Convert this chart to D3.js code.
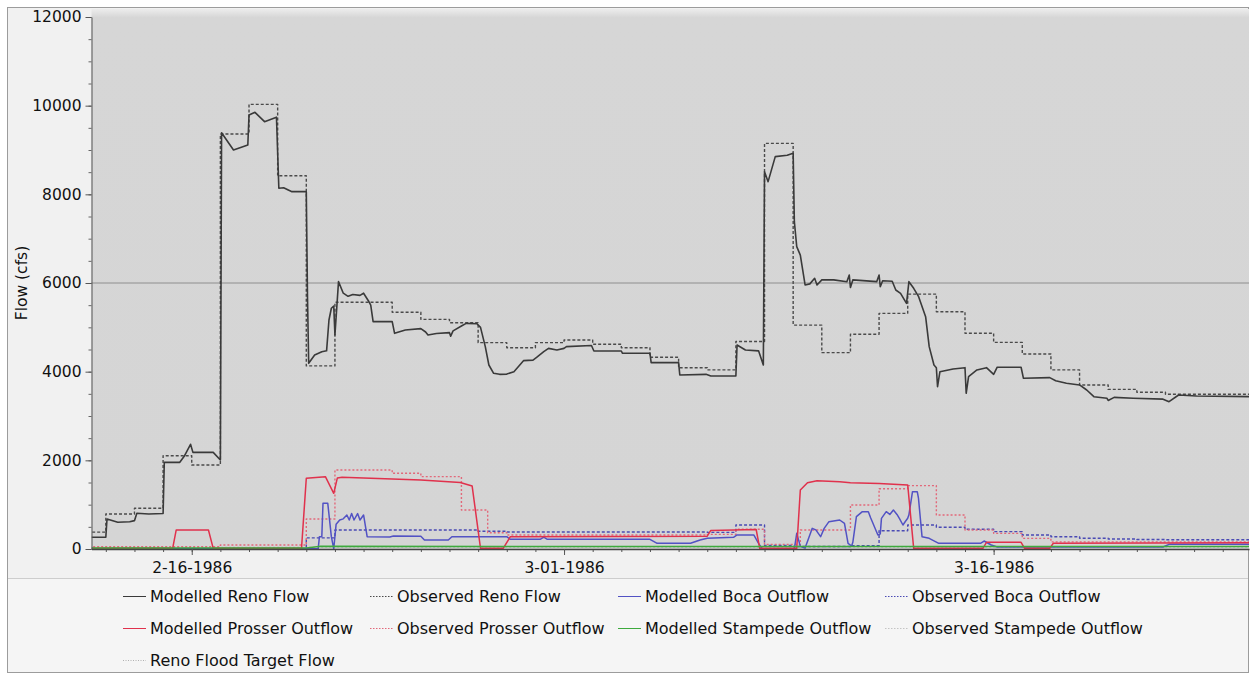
<!DOCTYPE html>
<html>
<head>
<meta charset="utf-8">
<script src="https://cdn.jsdelivr.net/npm/d3@7"></script>
<style>
  html, body { margin: 0; padding: 0; background: #ffffff; }
  svg { display: block; font-family: "DejaVu Sans", Verdana, sans-serif; }
  .tick text { fill: #111; }
</style>
</head>
<body>
<svg id="chart" width="1251" height="675"></svg>
<script>
// ---- Flows at Reno and reservoir outflows, Feb–Mar 1986 (cfs) ----
// Each series is a list of [month-day hour, flow] pairs.

const modelledReno = [
  ["02-12 12", 264], ["02-13 00", 264], ["02-13 01", 677], ["02-13 10", 602], ["02-13 20", 615],
  ["02-14 00", 640], ["02-14 02", 805], ["02-14 12", 790], ["02-15 00", 800], ["02-15 01", 1955],
  ["02-15 14", 1955], ["02-15 18", 2105], ["02-15 23", 2362], ["02-16 01", 2180], ["02-16 18", 2180],
  ["02-17 00", 2008], ["02-17 01", 9390], ["02-17 11", 9000], ["02-17 23", 9113], ["02-18 00", 9790],
  ["02-18 05", 9850], ["02-18 13", 9640], ["02-18 23", 9740], ["02-19 01", 8136], ["02-19 05", 8150],
  ["02-19 12", 8060], ["02-20 00", 8060], ["02-20 01", 5690], ["02-20 02", 4188], ["02-20 07", 4376],
  ["02-20 13", 4450], ["02-20 17", 4470], ["02-20 19", 5165], ["02-20 21", 5430], ["02-20 23", 5480],
  ["02-21 00", 4830], ["02-21 03", 6030], ["02-21 07", 5770], ["02-21 11", 5700], ["02-21 15", 5740],
  ["02-21 21", 5720], ["02-22 00", 5770], ["02-22 04", 5600], ["02-22 06", 5500], ["02-22 08", 5128],
  ["02-23 00", 5128], ["02-23 02", 4865], ["02-23 11", 4940], ["02-24 00", 4970], ["02-24 04", 4895],
  ["02-24 06", 4827], ["02-24 13", 4860], ["02-25 00", 4880], ["02-25 01", 4800], ["02-25 03", 4920],
  ["02-25 10", 5030], ["02-25 14", 5090], ["02-25 23", 5080], ["02-26 02", 5000], ["02-26 06", 4564],
  ["02-26 09", 4150], ["02-26 13", 3963], ["02-26 18", 3940], ["02-27 00", 3945], ["02-27 06", 4000],
  ["02-27 08", 4060], ["02-27 14", 4248], ["02-27 22", 4260], ["02-28 01", 4320], ["02-28 07", 4451],
  ["02-28 11", 4526], ["02-28 18", 4490], ["03-01 00", 4526], ["03-01 02", 4564], ["03-01 23", 4590],
  ["03-02 01", 4466], ["03-03 00", 4466], ["03-03 01", 4414], ["03-04 00", 4414], ["03-04 01", 4203],
  ["03-05 00", 4203], ["03-05 01", 3925], ["03-05 23", 3940], ["03-06 03", 3903], ["03-07 00", 3903],
  ["03-07 01", 4602], ["03-07 08", 4490], ["03-07 19", 4470], ["03-07 23", 4150], ["03-08 00", 8511],
  ["03-08 03", 8286], ["03-08 09", 8850], ["03-08 19", 8880], ["03-09 00", 8926], ["03-09 01", 7383],
  ["03-09 03", 6820], ["03-09 06", 6630], ["03-09 10", 5955], ["03-09 14", 5980], ["03-09 18", 6106],
  ["03-09 20", 5955], ["03-10 00", 6070], ["03-10 10", 6070], ["03-10 21", 6030], ["03-10 23", 6180],
  ["03-11 00", 5900], ["03-11 02", 6070], ["03-11 22", 6030], ["03-12 00", 6180], ["03-12 01", 5917],
  ["03-12 03", 6050], ["03-12 11", 6040], ["03-12 14", 5842], ["03-12 18", 5768], ["03-12 23", 5542],
  ["03-13 01", 6030], ["03-13 05", 5880], ["03-13 09", 5700], ["03-13 15", 5240], ["03-13 18", 4564],
  ["03-13 22", 4150], ["03-14 00", 4090], ["03-14 01", 3661], ["03-14 03", 4000], ["03-14 14", 4060],
  ["03-15 00", 4090], ["03-15 01", 3512], ["03-15 03", 3887], ["03-15 10", 4038], ["03-15 18", 4090],
  ["03-16 00", 3940], ["03-16 03", 4100], ["03-16 23", 4100], ["03-17 01", 3850], ["03-17 23", 3865],
  ["03-18 04", 3797], ["03-18 13", 3737], ["03-19 00", 3700], ["03-19 06", 3586], ["03-19 12", 3436],
  ["03-19 23", 3400], ["03-20 00", 3350], ["03-20 05", 3420], ["03-20 21", 3400], ["03-21 22", 3380],
  ["03-22 03", 3323], ["03-22 11", 3474], ["03-23 02", 3450], ["03-25 00", 3436]
];

// Observed series are daily (or irregular) records, held constant until the next reading.
const observedReno = [
  ["02-12 00", 380], ["02-13 00", 790], ["02-14 00", 920], ["02-15 00", 2105], ["02-16 00", 1895],
  ["02-17 00", 9360], ["02-18 00", 10030], ["02-19 00", 8420], ["02-20 00", 4130], ["02-21 00", 5565],
  ["02-22 00", 5565], ["02-23 00", 5340], ["02-24 00", 5180], ["02-25 00", 5105], ["02-26 00", 4655],
  ["02-27 00", 4540], ["02-28 00", 4655], ["03-01 00", 4715], ["03-02 00", 4620], ["03-03 00", 4540],
  ["03-04 00", 4325], ["03-05 00", 4090], ["03-06 00", 4040], ["03-07 00", 4680], ["03-08 00", 9150],
  ["03-09 00", 5050], ["03-10 00", 4430], ["03-11 00", 4845], ["03-12 00", 5315], ["03-13 00", 5750],
  ["03-14 00", 5350], ["03-15 00", 4865], ["03-16 00", 4660], ["03-17 00", 4400], ["03-18 00", 4040],
  ["03-19 00", 3700], ["03-20 00", 3600], ["03-21 00", 3535], ["03-22 00", 3490], ["03-23 00", 3490],
  ["03-24 00", 3490], ["03-25 00", 3490]
];

const modelledBoca = [
  ["02-12 12", 5], ["02-20 10", 5], ["02-20 11", 278], ["02-20 13", 278], ["02-20 14", 1030],
  ["02-20 18", 1030], ["02-20 21", 278], ["02-20 23", 5], ["02-21 01", 560], ["02-21 04", 654],
  ["02-21 07", 680], ["02-21 10", 767], ["02-21 12", 654], ["02-21 14", 800], ["02-21 16", 654],
  ["02-21 19", 800], ["02-21 21", 654], ["02-22 00", 767], ["02-22 03", 278], ["02-22 22", 270],
  ["02-23 01", 293], ["02-24 00", 290], ["02-24 03", 203], ["02-24 23", 203], ["02-25 02", 278],
  ["02-27 00", 278], ["02-27 03", 218], ["02-28 04", 218], ["02-28 07", 270], ["02-28 10", 218],
  ["03-04 00", 218], ["03-04 06", 128], ["03-05 10", 128], ["03-05 18", 203], ["03-06 00", 241],
  ["03-06 22", 263], ["03-07 01", 316], ["03-07 15", 316], ["03-07 19", 128], ["03-07 22", 5],
  ["03-09 01", 5], ["03-09 03", 353], ["03-09 06", 60], ["03-09 10", 20], ["03-09 16", 466],
  ["03-09 19", 430], ["03-09 23", 278], ["03-10 02", 466], ["03-10 06", 617], ["03-10 15", 654],
  ["03-10 19", 580], ["03-10 22", 128], ["03-11 01", 68], ["03-11 02", 150], ["03-11 05", 729],
  ["03-11 10", 842], ["03-11 15", 842], ["03-11 17", 700], ["03-11 23", 316], ["03-12 01", 340],
  ["03-12 02", 692], ["03-12 06", 842], ["03-12 09", 780], ["03-12 12", 880], ["03-12 15", 780],
  ["03-12 17", 692], ["03-12 20", 541], ["03-12 22", 620], ["03-13 00", 692], ["03-13 01", 770],
  ["03-13 04", 1293], ["03-13 08", 1293], ["03-13 09", 1150], ["03-13 12", 278], ["03-13 18", 241],
  ["03-14 02", 128], ["03-15 13", 128], ["03-15 16", 180], ["03-15 22", 90], ["03-16 03", 45],
  ["03-21 22", 45], ["03-22 03", 105], ["03-25 00", 105]
];

const observedBoca = [
  ["02-12 00", 15], ["02-20 00", 250], ["02-21 00", 430], ["02-26 00", 400], ["02-27 00", 385],
  ["03-06 00", 376], ["03-07 00", 541], ["03-08 00", 80], ["03-09 00", 55], ["03-11 00", 75],
  ["03-12 00", 413], ["03-13 00", 541], ["03-14 00", 489], ["03-15 00", 444], ["03-16 00", 391],
  ["03-17 00", 316], ["03-18 00", 278], ["03-19 00", 241], ["03-20 00", 225], ["03-21 00", 215],
  ["03-22 00", 210], ["03-25 00", 210]
];

const modelledProsser = [
  ["02-12 12", 15], ["02-15 08", 15], ["02-15 11", 430], ["02-16 14", 430], ["02-16 18", 15],
  ["02-19 20", 15], ["02-20 00", 1595], ["02-20 16", 1632], ["02-20 23", 1256], ["02-21 02", 1600],
  ["02-21 06", 1620], ["02-24 00", 1556], ["02-25 09", 1500], ["02-25 19", 1420], ["02-26 02", 15],
  ["02-26 21", 15], ["02-27 03", 278], ["03-06 00", 290], ["03-06 03", 420], ["03-07 17", 440],
  ["03-07 20", 15], ["03-09 03", 15], ["03-09 06", 1331], ["03-09 12", 1496], ["03-09 20", 1541],
  ["03-10 15", 1519], ["03-11 00", 1496], ["03-12 00", 1480], ["03-13 00", 1444], ["03-13 05", 15],
  ["03-15 15", 15], ["03-15 18", 150], ["03-16 23", 150], ["03-17 02", 15], ["03-17 23", 15],
  ["03-18 02", 130], ["03-25 00", 140]
];

const observedProsser = [
  ["02-12 00", 50], ["02-17 00", 90], ["02-20 00", 677], ["02-21 00", 1782], ["02-23 00", 1707],
  ["02-24 00", 1632], ["02-25 10", 880], ["02-26 08", 368], ["02-27 00", 316], ["03-06 00", 330],
  ["03-07 00", 444], ["03-08 00", 105], ["03-09 06", 430], ["03-11 00", 993], ["03-12 00", 1360],
  ["03-13 00", 1430], ["03-14 00", 767], ["03-15 00", 430], ["03-16 00", 353], ["03-17 00", 240],
  ["03-18 00", 160], ["03-25 00", 160]
];

const modelledStampede = [["02-12 12", 20], ["02-20 00", 20], ["02-20 12", 60], ["03-25 00", 55]];
const observedStampede = [["02-12 00", 40], ["03-25 00", 40]];
const renoFloodTarget = [["02-12 00", 6000], ["03-25 00", 6000]];

const yMajorTicks = [0, 2000, 4000, 6000, 8000, 10000, 12000];
const legendLabels = [
  "Modelled Reno Flow", "Observed Reno Flow", "Modelled Boca Outflow", "Observed Boca Outflow",
  "Modelled Prosser Outflow", "Observed Prosser Outflow", "Modelled Stampede Outflow", "Observed Stampede Outflow",
  "Reno Flood Target Flow"
];

// ---- drawing ----
const parseT = d3.timeParse("%Y-%m-%d %H");
const T = s => parseT("1986-" + s);

const W = 1251, H = 675;
const plot = { left: 91.5, right: 1249, top: 9, bottom: 549 };

const x = d3.scaleTime().domain([T("02-12 12"), T("03-24 22")]).range([plot.left, plot.right]);
const y = d3.scaleLinear().domain([0, 12000]).range([549, 17]);

const svg = d3.select("#chart");
const defs = svg.append("defs");

const grad = defs.append("linearGradient").attr("id", "plotBg").attr("x1", 0).attr("y1", 0).attr("x2", 0).attr("y2", 1);
grad.append("stop").attr("offset", "0%").attr("stop-color", "#ececec");
grad.append("stop").attr("offset", "1.6%").attr("stop-color", "#d6d6d6");
grad.append("stop").attr("offset", "100%").attr("stop-color", "#d5d5d5");

defs.append("clipPath").attr("id", "plotClip")
  .append("rect").attr("x", plot.left).attr("y", plot.top)
  .attr("width", plot.right - plot.left).attr("height", plot.bottom - plot.top + 1);

// panel and frame
svg.append("rect").attr("width", W).attr("height", H).attr("fill", "#ffffff");
svg.append("rect").attr("x", 7.5).attr("y", 7.5).attr("width", 1241).attr("height", 665)
  .attr("fill", "#f1f1f1").attr("stroke", "#9c9c9c");
svg.append("rect").attr("x", 8).attr("y", 578).attr("width", 1240).attr("height", 94)
  .attr("fill", "#f5f5f5");
svg.append("line").attr("x1", 8).attr("x2", 1248).attr("y1", 578.5).attr("y2", 578.5)
  .attr("stroke", "#cdcdcd");
svg.append("rect").attr("x", plot.left).attr("y", plot.top)
  .attr("width", plot.right - plot.left).attr("height", plot.bottom - plot.top)
  .attr("fill", "url(#plotBg)");

// series styles
const series = [
  { data: renoFloodTarget,  color: "#8e8e8e", dash: null,  width: 1,   step: false, legendDash: "1,1.5", legendColor: "#b0b0b0" },
  { data: observedStampede, color: "#b8b8b8", dash: "2,2", width: 1,   step: true,  legendColor: "#c4c4c4" },
  { data: observedBoca,     color: "#4a4ab4", dash: "3,2", width: 1.4, step: true },
  { data: observedProsser,  color: "#e2687a", dash: "2,2", width: 1.4, step: true },
  { data: modelledBoca,     color: "#5252c4", dash: null,  width: 1.5, step: false },
  { data: modelledProsser,  color: "#e0314c", dash: null,  width: 1.5, step: false },
  { data: modelledStampede, color: "#3daa3d", dash: null,  width: 1.5, step: false },
  { data: observedReno,     color: "#4a4a4a", dash: "3,2", width: 1.4, step: true },
  { data: modelledReno,     color: "#3a3a3a", dash: null,  width: 1.6, step: false }
];

const lineFor = step => d3.line()
  .x(d => x(T(d[0])))
  .y(d => y(d[1]))
  .curve(step ? d3.curveStepAfter : d3.curveLinear);

const marks = svg.append("g").attr("clip-path", "url(#plotClip)");
series.forEach(s => {
  marks.append("path")
    .datum(s.data)
    .attr("fill", "none")
    .attr("stroke", s.color)
    .attr("stroke-width", s.width)
    .attr("stroke-dasharray", s.dash)
    .attr("stroke-linejoin", "round")
    .attr("d", lineFor(s.step));
});

// y axis: labelled majors every 2000, minor ticks every 500
const yMinor = svg.append("g").attr("transform", `translate(${plot.left},0)`)
  .call(d3.axisLeft(y).tickValues(d3.range(0, 12001, 500)).tickSize(3).tickSizeOuter(0).tickFormat(""));
yMinor.select(".domain").remove();
yMinor.selectAll("line").attr("stroke", "#666");

const yAxis = svg.append("g").attr("transform", `translate(${plot.left},0)`)
  .call(d3.axisLeft(y).tickValues(yMajorTicks).tickSize(6).tickSizeOuter(0).tickPadding(4)
    .tickFormat(d3.format("d")));
yAxis.select(".domain").attr("stroke", "#555");
yAxis.selectAll("line").attr("stroke", "#555");
yAxis.selectAll("text").attr("font-size", "15.5px").attr("font-family", "DejaVu Sans, sans-serif");

// x axis: daily ticks, labels on the 1st and 16th
const xMinor = svg.append("g").attr("transform", `translate(0,${plot.bottom})`)
  .call(d3.axisBottom(x).ticks(d3.timeDay.every(1)).tickSize(3).tickSizeOuter(0).tickFormat(""));
xMinor.select(".domain").remove();
xMinor.selectAll("line").attr("stroke", "#555");

const labelDays = d3.timeDay.range(x.domain()[0], x.domain()[1])
  .filter(d => d.getDate() === 1 || d.getDate() === 16);
const xAxis = svg.append("g").attr("transform", `translate(0,${plot.bottom})`)
  .call(d3.axisBottom(x).tickValues(labelDays).tickSize(6).tickSizeOuter(0).tickPadding(7)
    .tickFormat(d3.timeFormat("%-m-%d-%Y")));
xAxis.select(".domain").attr("stroke", "#444").attr("stroke-width", 1.5);
xAxis.selectAll("line").attr("stroke", "#555");
xAxis.selectAll("text").attr("font-size", "15.5px").attr("font-family", "DejaVu Sans, sans-serif");

// y axis title
svg.append("text")
  .attr("transform", `translate(27,${(y(0) + y(12000)) / 2}) rotate(-90)`)
  .attr("text-anchor", "middle")
  .attr("font-size", "15.5px")
  .attr("fill", "#111")
  .text("Flow (cfs)");

// legend
const legendOrder = [8, 7, 4, 2, 5, 3, 6, 1, 0]; // series index for each legend label
const colX = [150, 397, 645, 912];
const rowY = [596, 628, 660];
const legend = svg.append("g");
legendLabels.forEach((label, i) => {
  const s = series[legendOrder[i]];
  const tx = colX[i % 4], ty = rowY[Math.floor(i / 4)];
  legend.append("line")
    .attr("x1", tx - 27).attr("x2", tx - 4).attr("y1", ty + 0.5).attr("y2", ty + 0.5)
    .attr("stroke", s.legendColor || s.color)
    .attr("stroke-width", 1)
    .attr("stroke-dasharray", s.legendDash || (s.dash ? "1.5,1.5" : null));
  legend.append("text")
    .attr("x", tx).attr("y", ty).attr("dy", "0.36em")
    .attr("font-size", "16px").attr("fill", "#111")
    .text(label);
});
</script>
</body>
</html>
